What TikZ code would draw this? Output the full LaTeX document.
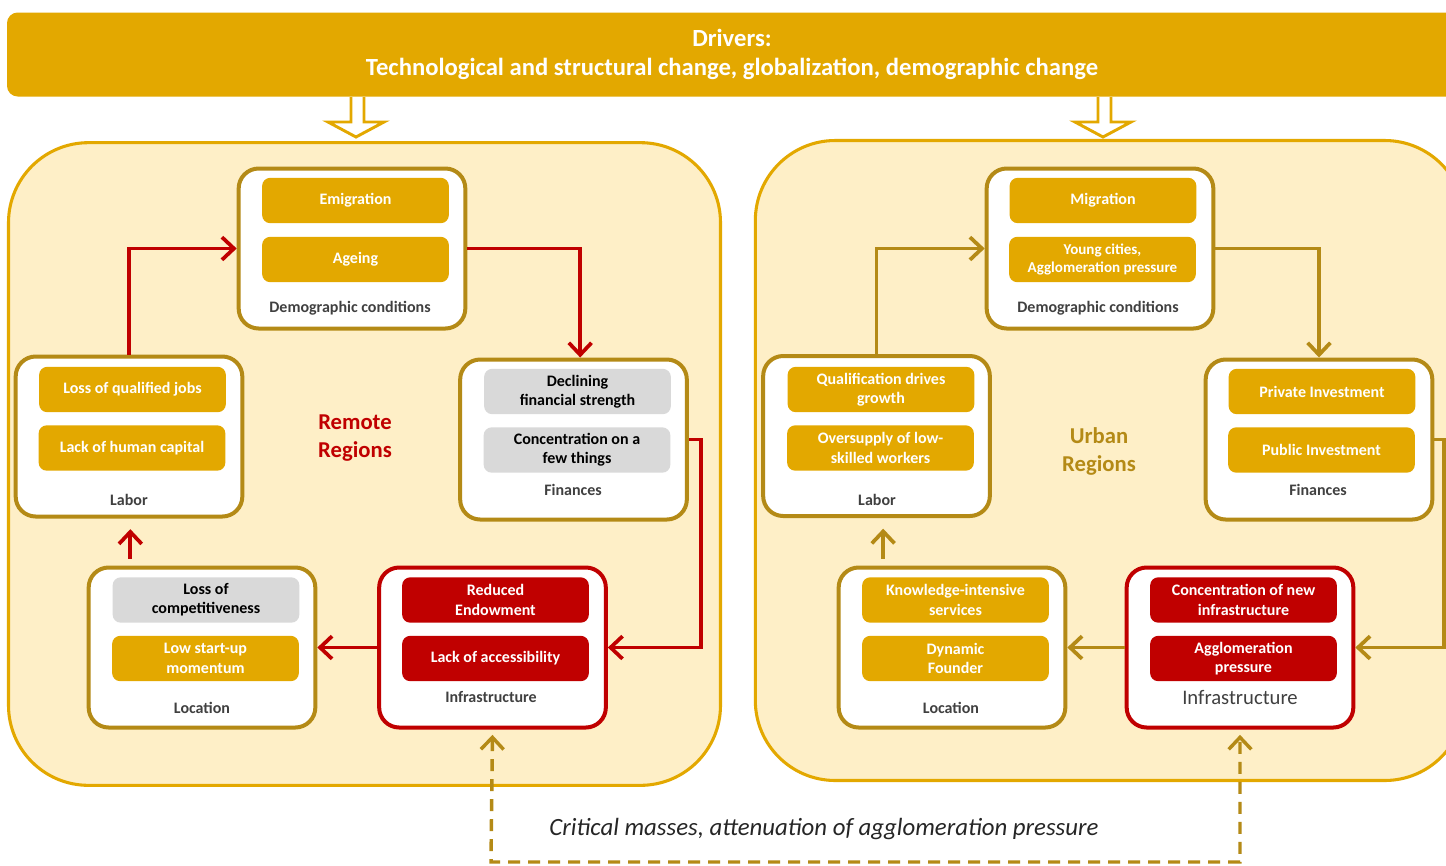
\documentclass[tikz,border=0pt]{standalone}
\usepackage{fontspec}
\setmainfont{Carlito}
\usetikzlibrary{arrows.meta}
\definecolor{DriverGold}{RGB}{227, 168, 0}
\definecolor{PanelCream}{RGB}{254, 239, 199}
\definecolor{BoxGold}{RGB}{180, 138, 22}
\definecolor{DeepRed}{RGB}{192, 0, 0}
\definecolor{ItemGray}{RGB}{217, 217, 217}
\definecolor{LabelGray}{RGB}{64, 64, 64}

\tikzset{
    panel/.style={draw=DriverGold, line width=2.3pt, fill=PanelCream, rounded corners=60pt},
    banner/.style={fill=DriverGold, rounded corners=8pt, text=white, align=center,
        font=\fontsize{18.5}{22}\selectfont\bfseries},
    grpbox/.style={draw=BoxGold, line width=3pt, fill=white, rounded corners=15pt,
        minimum width=170pt, minimum height=120pt},
    infrabox/.style={grpbox, draw=DeepRed},
    item/.style={rounded corners=6pt, minimum width=140pt, minimum height=34pt, inner sep=1pt,
        align=center, font=\fontsize{12}{14.5}\selectfont\bfseries},
    golditem/.style={item, fill=DriverGold, text=white},
    grayitem/.style={item, fill=ItemGray, text=black},
    reditem/.style={item, fill=DeepRed, text=white},
    grplabel/.style={text=LabelGray, font=\fontsize{12}{14}\selectfont\bfseries},
    regiontitle/.style={align=center, font=\fontsize{17}{21}\selectfont\bfseries},
    redflow/.style={draw=DeepRed, line width=2.8pt, -{Straight Barb[length=9pt, width=17pt]}},
    goldflow/.style={redflow, draw=BoxGold},
    hollow/.style={draw=DriverGold, line width=2.2pt, fill=white},
}

\begin{document}
\begin{tikzpicture}[x=0.75pt, y=-0.75pt]
    \useasboundingbox (0,0) rectangle (1446,865);
    \clip (0,0) rectangle (1446,865);
    \fill[white] (0,0) rectangle (1446,865);

    % the two regions
    \node[panel, minimum width=534pt, minimum height=482pt] (remote) at (364.5,464) {};
    \node[panel, minimum width=532pt, minimum height=480pt] (urban) at (1110,460.5) {};

    \draw[hollow] (351,97) -- (351,122) -- (328,122) -- (356,137) -- (384,122) -- (364,122) -- (364,97);
    \draw[hollow] (1098,97) -- (1098,122) -- (1075,122) -- (1103,137) -- (1131,122) -- (1111,122) -- (1111,97);

    \node[banner, minimum width=1087.5pt, minimum height=63pt] (drivers) at (732,54.5)
        {Drivers:\\Technological and structural change, globalization, demographic change};

    % remote regions
    \node[regiontitle, text=DeepRed] (remoteTitle) at (355,438) {Remote\\Regions};

    \node[grpbox] (demoL) at (352,248.5) {};
    \node[golditem] (emig) at (355.5,200.5) {Emigration};
    \node[golditem] (ageing) at (355.5,259.5) {Ageing};
    \node[grplabel] (demoLlab) at (350,308) {Demographic conditions};

    \node[grpbox] (laborL) at (129,436.5) {};
    \node[golditem] (lossJobs) at (132.5,389.5) {Loss of qualified jobs};
    \node[golditem] (lackHC) at (132,448) {Lack of human capital};
    \node[grplabel] (laborLlab) at (129,500) {Labor};

    \node[grpbox] (finL) at (573.5,439.5) {};
    \node[grayitem] (declining) at (577.5,391.5) {Declining\\financial strength};
    \node[grayitem] (concFew) at (577,450) {Concentration on a\\few things};
    \node[grplabel] (finLlab) at (573,490) {Finances};

    \node[grpbox] (locL) at (202,647.5) {};
    \node[grayitem] (lossComp) at (206,600) {Loss of\\competitiveness};
    \node[golditem] (lowStart) at (205.5,658.5) {Low start-up\\momentum};
    \node[grplabel] (locLlab) at (202,708) {Location};

    \node[infrabox] (infraL) at (492.5,647.5) {};
    \node[reditem] (reduced) at (495.5,600) {Reduced\\Endowment};
    \node[reditem] (lackAcc) at (495.5,658.5) {Lack of accessibility};
    \node[grplabel] (infraLlab) at (491,697) {Infrastructure};

    \draw[redflow] (laborL.north) |- (demoL.west);
    \draw[redflow] (demoL.east) -| ([xshift=5pt]finL.north);
    \draw[redflow] (finL.east) -- ++(12,0) |- (infraL.east);
    \draw[redflow] (infraL.west) -- (locL.east);
    \coordinate (upL) at ([xshift=1pt]laborL.south);
    \draw[redflow, shorten <=5pt, shorten >=8pt] (upL |- locL.north) -- (upL);

    % urban regions
    \node[regiontitle, text=BoxGold] (urbanTitle) at (1099,451.5) {Urban\\Regions};

    \node[grpbox] (demoR) at (1100,248.5) {};
    \node[golditem] (migration) at (1103,200.5) {Migration};
    \node[golditem, font=\fontsize{11.3}{13.5}\selectfont\bfseries] (young) at (1102.5,259.5) {Young cities,\\Agglomeration pressure};
    \node[grplabel] (demoRlab) at (1098,308) {Demographic conditions};

    \node[grpbox] (laborR) at (876.5,436) {};
    \node[golditem] (qualif) at (881,389.5) {Qualification drives\\growth};
    \node[golditem] (oversupply) at (880.5,448) {Oversupply of low-\\skilled workers};
    \node[grplabel] (laborRlab) at (877,500) {Labor};

    \node[grpbox] (finR) at (1319,439.5) {};
    \node[golditem] (privInv) at (1322,391.5) {Private Investment};
    \node[golditem] (pubInv) at (1321.5,450) {Public Investment};
    \node[grplabel] (finRlab) at (1318,490) {Finances};

    \node[grpbox] (locR) at (952,647.5) {};
    \node[golditem] (knowledge) at (955.5,600) {Knowledge-intensive\\services};
    \node[golditem] (dynamic) at (955.5,658.5) {Dynamic\\Founder};
    \node[grplabel] (locRlab) at (951,708) {Location};

    \node[infrabox] (infraR) at (1240,647.5) {};
    \node[reditem] (concNew) at (1243.5,600) {Concentration of new\\infrastructure};
    \node[reditem] (agglo) at (1243.5,658.5) {Agglomeration\\pressure};
    \node[text=LabelGray, font=\fontsize{15.5}{18}\selectfont] (infraRlab) at (1240,697) {Infrastructure};

    \draw[goldflow] (laborR.north) |- (demoR.west);
    \draw[goldflow] (demoR.east) -| (finR.north);
    \draw[goldflow] (finR.east) -- ++(10,0) |- (infraR.east);
    \draw[goldflow] (infraR.west) -- (locR.east);
    \coordinate (upR) at ([xshift=5pt]laborR.south);
    \draw[goldflow, shorten <=5pt, shorten >=8pt] (upR |- locR.north) -- (upR);

    % link between the two infrastructures
    \coordinate (dashL) at (491,862);
    \coordinate (dashR) at (1240,862);
    \draw[draw=BoxGold, line width=2.6pt, dash pattern=on 9pt off 6pt, shorten <=4pt, shorten >=4pt,
        {Straight Barb[length=9pt, width=17pt]}-{Straight Barb[length=9pt, width=17pt]}]
        (infraL.south) -- (dashL) -- (dashR) -- (infraR.south);
    \node[font=\fontsize{18.6}{22}\selectfont\itshape, text=black!85] (critical) at (824,829)
        {Critical masses, attenuation of agglomeration pressure};
\end{tikzpicture}
\end{document}
